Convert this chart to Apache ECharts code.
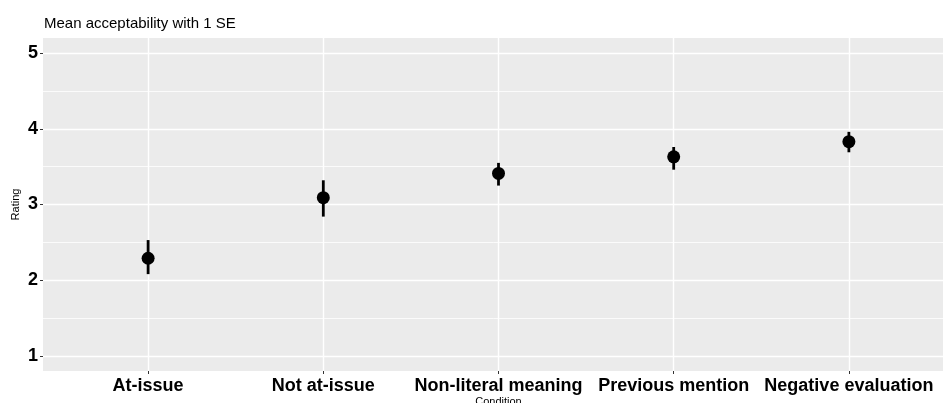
<!DOCTYPE html>
<html>
<head>
<meta charset="utf-8">
<script src="https://cdn.jsdelivr.net/npm/echarts@6/dist/echarts.min.js"></script>
<style>
html,body{margin:0;padding:0;background:#fff;}
#chart{width:943px;height:403px;}
</style>
</head>
<body>
<div id="chart"></div>
<script>
// Data
var categories = ['At-issue', 'Not at-issue', 'Non-literal meaning', 'Previous mention', 'Negative evaluation'];
var means = [2.29, 3.09, 3.41, 3.63, 3.83];
var lower = [2.08, 2.84, 3.25, 3.46, 3.69];
var upper = [2.53, 3.32, 3.55, 3.76, 3.96];
var yTicks = [1, 2, 3, 4, 5];
var yMinor = [1.5, 2.5, 3.5, 4.5];

var FONT = '"Liberation Sans", Arial, Helvetica, sans-serif';
var xIdx = categories.map(function (c, i) { return i; });

var pointData = means.map(function (m, i) { return [i, m]; });
var barData = means.map(function (m, i) { return [i, lower[i], upper[i]]; });

var chart = echarts.init(document.getElementById('chart'), null, {renderer: 'canvas'});
chart.setOption({
  animation: false,
  backgroundColor: '#ffffff',
  title: {
    text: 'Mean acceptability with 1 SE',
    left: 44, top: 16, padding: 0,
    textStyle: {fontFamily: FONT, fontSize: 15, fontWeight: 'normal', color: '#000'}
  },
  grid: {
    left: 43, top: 38, right: -11, bottom: 32,
    show: true, backgroundColor: '#EBEBEB', borderWidth: 0,
    containLabel: false,
    outerBoundsMode: 'none'
  },
  xAxis: {
    type: 'value', min: -0.6, max: 4.6,
    name: 'Condition', nameLocation: 'middle', nameGap: 25, nameMoveOverlap: false,
    nameTextStyle: {fontFamily: FONT, fontSize: 11, color: '#000'},
    axisLine: {show: false, onZero: false},
    axisTick: {show: true, customValues: xIdx, length: 3, lineStyle: {color: '#333', width: 1}},
    axisLabel: {
      customValues: xIdx, margin: 6,
      formatter: function (v) { return categories[Math.round(v)] || ''; },
      fontFamily: FONT, fontSize: 18, fontWeight: 'bold', color: '#000'
    },
    splitLine: {show: true, lineStyle: {color: '#ffffff', width: 1.4}}
  },
  yAxis: [{
    type: 'value', min: 0.8, max: 5.2,
    name: 'Rating', nameLocation: 'middle', nameGap: 22, nameRotate: 90, nameMoveOverlap: false,
    nameTextStyle: {fontFamily: FONT, fontSize: 11, color: '#000'},
    axisLine: {show: false, onZero: false},
    axisTick: {show: true, customValues: yTicks, length: 3, lineStyle: {color: '#333', width: 1}},
    axisLabel: {customValues: yTicks, margin: 5, fontFamily: FONT, fontSize: 18, fontWeight: 'bold', color: '#000'},
    splitLine: {show: true, lineStyle: {color: '#ffffff', width: 1.4}},
    z: 1
  }, {
    type: 'value', min: 0.8, max: 5.2, position: 'left',
    axisLine: {show: false, onZero: false},
    axisTick: {show: false, customValues: yMinor},
    axisLabel: {show: false, customValues: yMinor},
    splitLine: {show: true, lineStyle: {color: '#ffffff', width: 0.8}},
    z: 0
  }],
  series: [{
    type: 'custom',
    data: barData,
    encode: {x: 0, y: [1, 2]},
    renderItem: function (params, api) {
      var p1 = api.coord([api.value(0), api.value(1)]);
      var p2 = api.coord([api.value(0), api.value(2)]);
      return {
        type: 'line',
        shape: {x1: p1[0], y1: p1[1], x2: p2[0], y2: p2[1]},
        style: {stroke: '#000', lineWidth: 2.8}
      };
    },
    z: 3
  }, {
    type: 'scatter',
    data: pointData,
    symbol: 'circle',
    symbolSize: 13,
    itemStyle: {color: '#000', opacity: 1},
    z: 4
  }]
});
</script>
</body>
</html>
